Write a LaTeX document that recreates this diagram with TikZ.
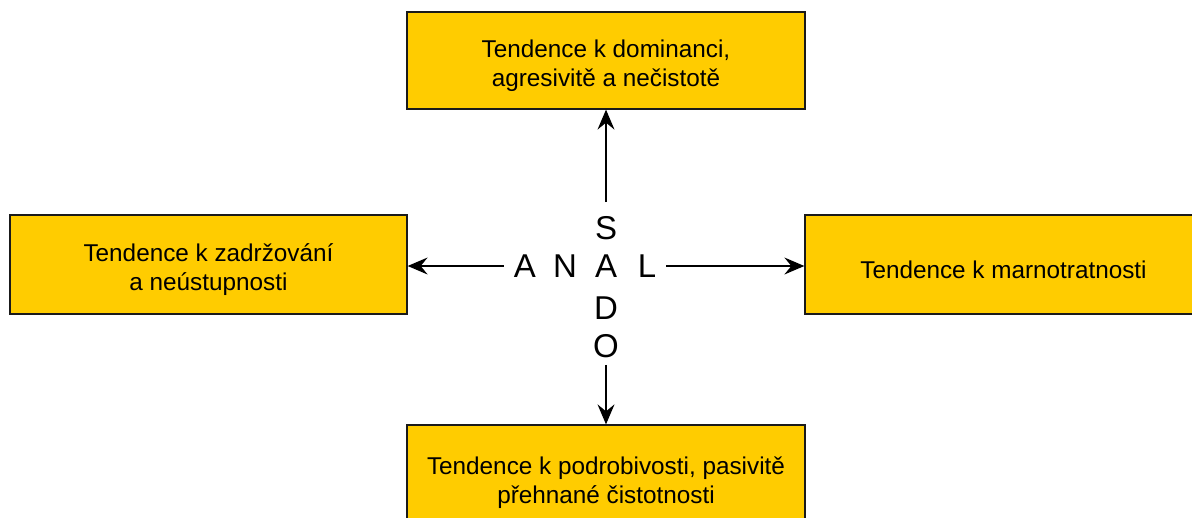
\documentclass[tikz,border=0pt]{standalone}
\usepackage{fontspec}
\setmainfont{Liberation Sans}
\usetikzlibrary{arrows.meta}
\definecolor{boxfill}{HTML}{FFCC00}
\definecolor{boxline}{HTML}{1A1A1A}
\newcommand{\topstrut}{\rule{0pt}{28.5pt}}
\begin{document}
\begin{tikzpicture}[x=1pt,y=1pt,
  tbox/.style={draw=boxline,fill=boxfill,line width=1.3pt,align=center,
    inner sep=0pt,font=\fontsize{24.3}{29}\selectfont},
  letter/.style={inner sep=0pt,font=\fontsize{33}{40}\selectfont},
  arr/.style={line width=1.2pt,-{Stealth[length=20pt,width=17pt,inset=7pt]},shorten <=10pt}]
\useasboundingbox (0,0) rectangle (1192,-517);
\node[tbox,minimum width=398pt,minimum height=97pt] (top) at (606,-60.5) {\topstrut Tendence k dominanci,\\agresivitě a nečistotě};
\node[tbox,minimum width=397pt,minimum height=99pt] (left) at (208.5,-264.5) {\topstrut Tendence k zadržování\\a neústupnosti};
\node[tbox,minimum width=397pt,minimum height=99pt] (right) at (1003.5,-264.5) {\topstrut Tendence k marnotratnosti};
\node[tbox,minimum width=398pt,minimum height=105pt] (bottom) at (606,-477.5) {\topstrut Tendence k podrobivosti, pasivitě\\přehnané čistotnosti};
\node[letter] (a1) at (525,-266) {A};
\node[letter] (n) at (565,-266) {N};
\node[letter] (a2) at (606,-266) {A};
\node[letter] (l) at (647,-266) {L};
\node[letter] (s) at (606,-228) {S};
\node[letter] (d) at (606,-308) {D};
\node[letter] (o) at (606,-346) {O};
\draw[arr,shorten <=14pt] (s.north) -- (top.south);
\draw[arr,shorten <=7pt] (o.south) -- (bottom.north);
\draw[arr] (a1.west) -- (a1.west -| left.east);
\draw[arr] (l.east) -- (l.east -| right.west);
\end{tikzpicture}
\end{document}
